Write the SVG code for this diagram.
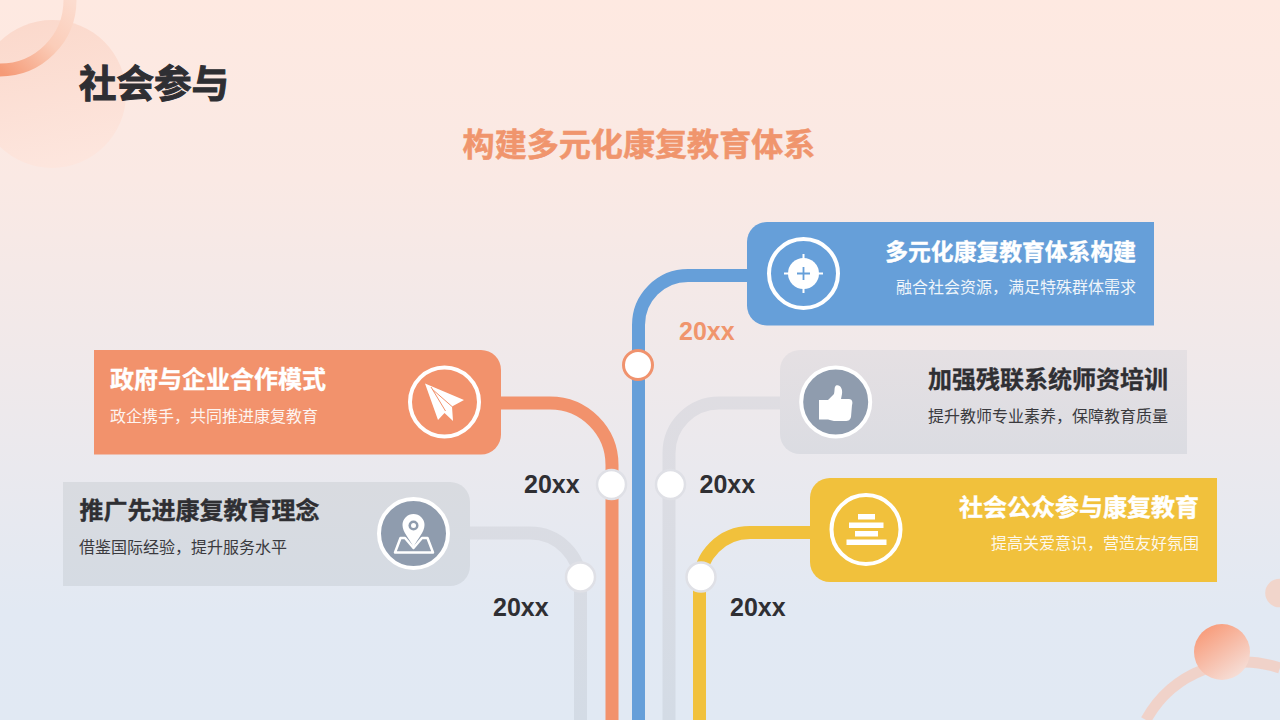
<svg xmlns="http://www.w3.org/2000/svg" width="1280" height="720" viewBox="0 0 1280 720">
<defs>
<linearGradient id="bg" x1="0" y1="0" x2="0" y2="1"><stop offset="0" stop-color="#fee9e1"/><stop offset="0.25" stop-color="#fae9e4"/><stop offset="0.85" stop-color="#e2e9f3"/><stop offset="1" stop-color="#e1e9f3"/></linearGradient>
<linearGradient id="ring" gradientUnits="userSpaceOnUse" x1="0" y1="70" x2="72" y2="0"><stop offset="0" stop-color="#f59a76"/><stop offset="0.55" stop-color="#fbcdb9"/><stop offset="1" stop-color="#fcdccf"/></linearGradient>
<linearGradient id="ball" x1="0.1" y1="0.1" x2="0.7" y2="0.95"><stop offset="0" stop-color="#f89a78"/><stop offset="1" stop-color="#f6dcd4"/></linearGradient>
<linearGradient id="big" x1="0.4" y1="0" x2="0.6" y2="1"><stop offset="0" stop-color="#fbd9cc"/><stop offset="1" stop-color="#fde6de"/></linearGradient>
<linearGradient id="card" x1="0" y1="0" x2="0" y2="1"><stop offset="0" stop-color="#e5e0e3"/><stop offset="1" stop-color="#dbdce2"/></linearGradient>
<linearGradient id="cardL" x1="0" y1="0" x2="0" y2="1"><stop offset="0" stop-color="#d9dbe0"/><stop offset="1" stop-color="#d5dbe3"/></linearGradient>
<linearGradient id="gline2" gradientUnits="userSpaceOnUse" x1="0" y1="395" x2="0" y2="720"><stop offset="0" stop-color="#dfdde2"/><stop offset="1" stop-color="#d3dbe5"/></linearGradient>
</defs>
<style>
text{font-family:"Liberation Sans","Noto Sans CJK SC",sans-serif}
.cn{font-family:"Noto Sans CJK SC","Liberation Sans",sans-serif}
.t{font-size:24px;font-weight:700;stroke-width:0.35}
.s{font-size:16px}
.w{fill:#fff}
.t.w{stroke:#fff}
.d{fill:#2f2f33}
.t.d{stroke:#2f2f33}
.sd{fill:#3a3a3e}
.yr{font-size:25px;font-weight:700;fill:#2f2f33}
.line{fill:none;stroke-width:13}
.dot{fill:#fff;stroke:#dfe0e6;stroke-width:2.5}
.ic{fill:none;stroke:#fff;stroke-width:4}
</style>
<rect width="1280" height="720" fill="url(#bg)"/>
<g id="decor">
<circle cx="52" cy="94" r="74" fill="url(#big)"/>
<circle cx="0" cy="0" r="70" fill="none" stroke="url(#ring)" stroke-width="13"/>
<circle cx="1279.500" cy="593" r="14.300" fill="#f1d5cb"/>
<path d="M1146 720A112 112 0 0 1 1280 668" fill="none" stroke="#f2cfc4" stroke-width="11" opacity="0.9"/>
<circle cx="1222" cy="652" r="28" fill="url(#ball)"/>
</g>
<text id="page-title" class="cn d" x="79" y="96.500" font-size="37.500" font-weight="700" stroke="#2f2f33" stroke-width="1">社会参与</text>
<text id="subtitle" class="cn" x="639" y="156" font-size="32.100" font-weight="700" fill="#f0956d" stroke="#f0956d" stroke-width="0.5" text-anchor="middle">构建多元化康复教育体系</text>
<g id="connectors">
<path class="line" stroke="url(#gline2)" d="M460 533H530A50.500 50.500 0 0 1 580.500 583.500V720"/>
<path class="line" stroke="#f2926c" d="M490 403H550A62 62 0 0 1 612 465V720"/>
<path class="line" stroke="#669fd9" d="M760 275.500H688A49.500 49.500 0 0 0 638.500 325V720"/>
<path class="line" stroke="url(#gline2)" d="M790 403H719A50 50 0 0 0 669 453V720"/>
<path class="line" stroke="#f1c13c" d="M820 532.500H750A50.500 50.500 0 0 0 699.500 583V720"/>
<circle class="dot" cx="580.500" cy="577" r="14.500"/>
<circle class="dot" cx="611.500" cy="484.500" r="14.500"/>
<circle cx="638" cy="365" r="14.500" fill="#fff" stroke="#f0926d" stroke-width="3"/>
<circle class="dot" cx="670.500" cy="484.500" r="14.500"/>
<circle class="dot" cx="701" cy="577" r="14.500"/>
</g>
<g id="node-blue">
<path d="M767 222H1154V325.500H767A20 20 0 0 1 747 305.500V242A20 20 0 0 1 767 222Z" fill="#669fd9"/>
<circle class="ic" cx="803.500" cy="273.500" r="34.500"/>
<circle cx="803.500" cy="273.500" r="15.500" fill="#fff"/>
<path d="M803.500 254V293M784 273.500H823" stroke="#fff" stroke-width="2"/>
<path d="M803.500 267V280M797 273.500H810" stroke="#669fd9" stroke-width="1.800"/>
<text class="cn w t" x="1136" y="260" style="font-size:22.800px" text-anchor="end">多元化康复教育体系构建</text>
<text class="cn w" x="1136" y="293" font-size="16" text-anchor="end" opacity="0.9">融合社会资源，满足特殊群体需求</text>
</g>
<g id="node-orange">
<path d="M94 350H481A20 20 0 0 1 501 370V434A20 20 0 0 1 481 454.500H94Z" fill="#f2926c"/>
<circle class="ic" cx="444.500" cy="402" r="34.500"/>
<path d="M425 383.500L464 400L452 406.500L453 421L444.500 413L438 420Z" fill="#fff"/>
<path d="M431 387L445.500 411M452 406.500L432 389" stroke="#f2926c" stroke-width="1" fill="none"/>
<text class="cn t w" x="110" y="388">政府与企业合作模式</text>
<text class="cn s w" x="110" y="422" opacity="0.9">政企携手，共同推进康复教育</text>
</g>
<g id="node-gray-left">
<path d="M63 482H450A20 20 0 0 1 470 502V566A20 20 0 0 1 450 586H63Z" fill="url(#cardL)"/>
<circle cx="413.500" cy="533.500" r="34.500" fill="#8f9cae" stroke="#fff" stroke-width="4"/>
<path d="M413.500 514A11 11 0 0 1 424.500 525C424.500 532 418 538 413.500 547C409 538 402.500 532 402.500 525A11 11 0 0 1 413.500 514Z" fill="#fff"/>
<circle cx="413.500" cy="525.500" r="5" fill="#8f9cae"/>
<circle cx="413.500" cy="525.500" r="2.500" fill="#fff"/>
<path d="M405 538H400.500L395 552.500H433L427.500 538H422L413.500 548Z" fill="none" stroke="#fff" stroke-width="2.500" stroke-linejoin="round"/>
<text class="cn t d" x="79.500" y="519">推广先进康复教育理念</text>
<text class="cn s sd" x="79" y="553">借鉴国际经验，提升服务水平</text>
</g>
<g id="node-gray-right">
<path d="M800 350H1187V454H800A20 20 0 0 1 780 434V370A20 20 0 0 1 800 350Z" fill="url(#card)"/>
<circle cx="835.700" cy="402" r="34.500" fill="#8f9cae" stroke="#fff" stroke-width="4"/>
<path d="M819 400H828L834 394C835 390 834 387 836 385.500C840 384 843 389 842 394L841 399H849C852 399 853 402 852 405L851 417C850 420 849 421 845 421H834L828 419.500H819Z" fill="#fff"/>
<text class="cn t d" x="1168" y="388" text-anchor="end">加强残联系统师资培训</text>
<text class="cn s sd" x="1168" y="422" text-anchor="end">提升教师专业素养，保障教育质量</text>
</g>
<g id="node-yellow">
<path d="M830 478H1217V582H830A20 20 0 0 1 810 562V498A20 20 0 0 1 830 478Z" fill="#f1c13c"/>
<circle class="ic" cx="866" cy="529.500" r="34.500"/>
<rect x="858" y="514" width="17" height="5.500" class="w"/>
<rect x="849" y="522.500" width="34.500" height="5.500" class="w"/>
<rect x="855" y="531" width="23" height="5.500" class="w"/>
<rect x="846.500" y="539.500" width="40" height="5.500" class="w"/>
<text class="cn t w" x="1199" y="516" text-anchor="end">社会公众参与康复教育</text>
<text class="cn s w" x="1199" y="549" text-anchor="end" opacity="0.9">提高关爱意识，营造友好氛围</text>
</g>
<g id="years">
<text class="yr" x="679" y="340" style="fill:#f0956d">20xx</text>
<text class="yr" x="524" y="493">20xx</text>
<text class="yr" x="699.500" y="493">20xx</text>
<text class="yr" x="493" y="616">20xx</text>
<text class="yr" x="730" y="616">20xx</text>
</g>
</svg>
